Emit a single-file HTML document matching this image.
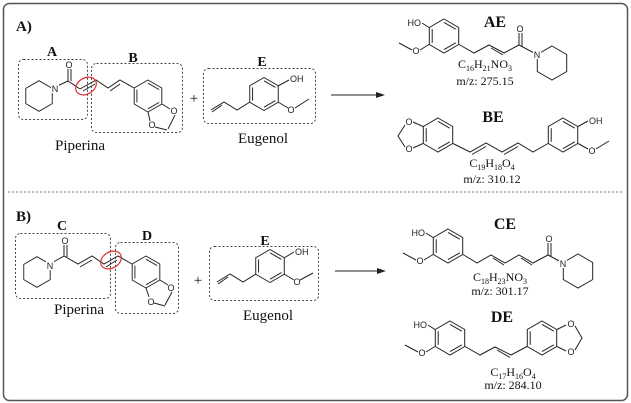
<!DOCTYPE html>
<html><head><meta charset="utf-8"><style>
html,body{margin:0;padding:0;background:#fff;}
svg{display:block;}
.b{stroke:#222;stroke-width:1;fill:none;}
.a{font-family:"Liberation Sans",sans-serif;font-size:9px;fill:#222;}
.s{font-family:"Liberation Serif",serif;fill:#111;}
.box{fill:none;stroke:#444;stroke-width:1;stroke-dasharray:2,2;}
</style></head><body>
<svg width="631" height="403" viewBox="0 0 631 403" xmlns="http://www.w3.org/2000/svg">
<defs>
<g id="bz" class="b">
<polygon points="0,-17 14.7,-8.5 14.7,8.5 0,17 -14.7,8.5 -14.7,-8.5"/>
<line x1="0" y1="-13.6" x2="11.8" y2="-6.8"/>
<line x1="11.8" y1="6.8" x2="0" y2="13.6"/>
<line x1="-11.8" y1="6.8" x2="-11.8" y2="-6.8"/>
</g>
<g id="hx" class="b"><polygon points="0,-17 14.7,-8.5 14.7,8.5 0,17 -14.7,8.5 -14.7,-8.5"/></g>
</defs>
<rect x="3.5" y="3.5" width="624" height="397" rx="6" fill="none" stroke="#555" stroke-width="1.5"/>
<line x1="8" y1="192" x2="623" y2="192" stroke="#777" stroke-dasharray="2,2"/>

<!-- Panel A -->
<text x="16" y="31" class="s" font-size="15" font-weight="bold">A)</text>
<rect class="box" x="18.5" y="59.5" width="69" height="60" rx="5"/>
<text x="52" y="56" class="s" font-size="14" font-weight="bold" text-anchor="middle">A</text>
<rect class="box" x="91.5" y="63.5" width="91" height="69" rx="5"/>
<text x="133" y="62" class="s" font-size="14" font-weight="bold" text-anchor="middle">B</text>
<rect class="box" x="203.5" y="68.5" width="112" height="55" rx="5"/>
<text x="262" y="66" class="s" font-size="14" font-weight="bold" text-anchor="middle">E</text>
<text x="194" y="103" class="s" font-size="15" text-anchor="middle">+</text>
<text x="80" y="150" class="s" font-size="15" text-anchor="middle">Piperina</text>
<text x="263" y="143" class="s" font-size="15" text-anchor="middle">Eugenol</text>

<use href="#hx" transform="translate(39,96) scale(0.9)"/>
<g class="b">
<polyline points="52.2,88.4 68,81 80,89"/>
<line x1="68" y1="81" x2="68" y2="69"/><line x1="71" y1="81" x2="71" y2="69"/>
<polyline points="80,89 96,80 108,88 120,80 134,88"/>
<line x1="83" y1="91" x2="95" y2="84"/><line x1="110" y1="91" x2="120" y2="84"/>
<line x1="162" y1="104" x2="170" y2="109"/><line x1="148" y1="112" x2="150" y2="121"/>
<line x1="175" y1="115" x2="168" y2="129"/><line x1="155" y1="127" x2="167" y2="130"/>
</g>
<rect x="51" y="84" width="8" height="9" fill="#fff"/>
<text x="55" y="92" class="a" text-anchor="middle">N</text>
<text x="69" y="68" class="a" text-anchor="middle">O</text>
<use href="#bz" transform="translate(148,96) scale(0.94)"/>
<text x="174" y="114" class="a" text-anchor="middle">O</text>
<text x="152" y="128" class="a" text-anchor="middle">O</text>
<ellipse cx="86" cy="86" rx="11" ry="8" transform="rotate(-30 86 86)" fill="none" stroke="#e03030" stroke-width="1.2"/>

<use href="#bz" transform="translate(264,94) scale(0.97)"/>
<g class="b">
<line x1="278" y1="86" x2="289" y2="80"/>
<line x1="278" y1="102" x2="288" y2="108"/><line x1="295" y1="108" x2="309" y2="99"/>
<polyline points="250,102 237,110 224,102 211,110"/>
<line x1="222" y1="105" x2="212" y2="112"/>
</g>
<text x="290" y="82" class="a">OH</text>
<text x="291" y="113" class="a" text-anchor="middle">O</text>

<g class="b"><line x1="331" y1="95" x2="378" y2="95"/></g>
<polygon points="385,95 376,92 376,98" fill="#222"/>

<!-- AE -->
<text x="495" y="27" class="s" font-size="16" font-weight="bold" text-anchor="middle">AE</text>
<use href="#bz" transform="translate(444,36)"/>
<g class="b">
<line x1="429" y1="27.5" x2="422" y2="23"/>
<line x1="429" y1="44.5" x2="420" y2="50"/><line x1="412" y1="50" x2="399" y2="43"/>
<polyline points="459,44.5 474,53 489,45 504,53 519,45 537,54.5"/>
<line x1="491" y1="48" x2="503" y2="55"/>
<line x1="519" y1="45" x2="519" y2="33"/><line x1="522" y1="46" x2="522" y2="33"/>
</g>
<use href="#hx" transform="translate(552,63)"/>
<rect x="533" y="50" width="8" height="9" fill="#fff"/>
<text x="537" y="58" class="a" text-anchor="middle">N</text>
<text x="520" y="32" class="a" text-anchor="middle">O</text>
<text x="421" y="26" class="a" text-anchor="end">HO</text>
<text x="416" y="54" class="a" text-anchor="middle">O</text>
<text x="485" y="68" class="s" font-size="12" text-anchor="middle">C<tspan font-size="8" dy="3">16</tspan><tspan dy="-3">H</tspan><tspan font-size="8" dy="3">21</tspan><tspan dy="-3">NO</tspan><tspan font-size="8" dy="3">3</tspan></text>
<text x="485" y="85" class="s" font-size="12" text-anchor="middle">m/z: 275.15</text>

<!-- BE -->
<text x="493" y="122" class="s" font-size="16" font-weight="bold" text-anchor="middle">BE</text>
<use href="#bz" transform="translate(438,135)"/>
<use href="#bz" transform="translate(563,135)"/>
<g class="b">
<line x1="423" y1="126.5" x2="413" y2="122"/><line x1="423" y1="143.5" x2="413" y2="148"/>
<polyline points="405,125 398,136 405,147"/>
<polyline points="453,143.5 470,152 486,143 502,152 518,143 533,152 548,143.5"/>
<line x1="472" y1="154.5" x2="486" y2="146.5"/><line x1="504" y1="154.5" x2="518" y2="146.5"/>
<line x1="578" y1="126.5" x2="588" y2="121"/>
<line x1="578" y1="143.5" x2="588" y2="149"/><line x1="596" y1="149" x2="609" y2="141"/>
</g>
<text x="409" y="125" class="a" text-anchor="middle">O</text>
<text x="409" y="152" class="a" text-anchor="middle">O</text>
<text x="589" y="124" class="a">OH</text>
<text x="592" y="154" class="a" text-anchor="middle">O</text>
<text x="492" y="167" class="s" font-size="12" text-anchor="middle">C<tspan font-size="8" dy="3">19</tspan><tspan dy="-3">H</tspan><tspan font-size="8" dy="3">18</tspan><tspan dy="-3">O</tspan><tspan font-size="8" dy="3">4</tspan></text>
<text x="492" y="183" class="s" font-size="12" text-anchor="middle">m/z: 310.12</text>

<!-- Panel B -->
<text x="16" y="221" class="s" font-size="15" font-weight="bold">B)</text>
<rect class="box" x="15.5" y="233.5" width="95" height="65" rx="5"/>
<text x="62" y="230" class="s" font-size="14" font-weight="bold" text-anchor="middle">C</text>
<rect class="box" x="115.5" y="242.5" width="63" height="71" rx="5"/>
<text x="147" y="240" class="s" font-size="14" font-weight="bold" text-anchor="middle">D</text>
<rect class="box" x="209.5" y="246.5" width="109" height="54" rx="5"/>
<text x="265" y="245" class="s" font-size="14" font-weight="bold" text-anchor="middle">E</text>
<text x="198" y="285" class="s" font-size="15" text-anchor="middle">+</text>
<text x="79" y="314" class="s" font-size="15" text-anchor="middle">Piperina</text>
<text x="268" y="320" class="s" font-size="15" text-anchor="middle">Eugenol</text>

<use href="#hx" transform="translate(37,272) scale(0.9)"/>
<g class="b">
<polyline points="50,264 64,256 78,264 92,256 104,264 118,256 132,264"/>
<line x1="64" y1="256" x2="64" y2="245"/><line x1="67" y1="257" x2="67" y2="245"/>
<line x1="80" y1="267" x2="92" y2="260"/><line x1="106" y1="267" x2="117" y2="260"/>
<line x1="160" y1="280" x2="168" y2="285"/><line x1="146" y1="288" x2="149" y2="297"/>
<line x1="172" y1="292" x2="165" y2="305"/><line x1="154" y1="303" x2="165" y2="306"/>
</g>
<rect x="46" y="261" width="8" height="9" fill="#fff"/>
<text x="50" y="269" class="a" text-anchor="middle">N</text>
<text x="65" y="244" class="a" text-anchor="middle">O</text>
<use href="#bz" transform="translate(146,272) scale(0.94)"/>
<text x="171" y="291" class="a" text-anchor="middle">O</text>
<text x="151" y="305" class="a" text-anchor="middle">O</text>
<ellipse cx="111" cy="260" rx="11" ry="8" transform="rotate(-30 111 260)" fill="none" stroke="#e03030" stroke-width="1.2"/>

<use href="#bz" transform="translate(270,266) scale(0.97)"/>
<g class="b">
<line x1="284" y1="258" x2="294" y2="252"/>
<line x1="284" y1="274" x2="294" y2="280"/><line x1="300" y1="280" x2="313" y2="273"/>
<polyline points="256,274 243,282 230,274 217,282"/>
<line x1="228" y1="277" x2="218" y2="284"/>
</g>
<text x="295" y="255" class="a">OH</text>
<text x="297" y="285" class="a" text-anchor="middle">O</text>

<g class="b"><line x1="335" y1="271" x2="379" y2="271"/></g>
<polygon points="386,271 377,268 377,274" fill="#222"/>

<!-- CE -->
<text x="505" y="229" class="s" font-size="16" font-weight="bold" text-anchor="middle">CE</text>
<use href="#bz" transform="translate(448,246)"/>
<g class="b">
<line x1="433" y1="237.5" x2="426" y2="233"/>
<line x1="433" y1="254.5" x2="424" y2="260"/><line x1="416" y1="260" x2="403" y2="253"/>
<polyline points="463,254.5 477,263 491,255 505,263 519,255 533,263 548,255 563,263"/>
<line x1="493" y1="258" x2="504" y2="265"/><line x1="521" y1="258" x2="532" y2="265"/>
<line x1="548" y1="255" x2="548" y2="243"/><line x1="551" y1="256" x2="551" y2="243"/>
</g>
<use href="#hx" transform="translate(578,271)"/>
<rect x="559" y="259" width="8" height="9" fill="#fff"/>
<text x="563" y="267" class="a" text-anchor="middle">N</text>
<text x="549" y="242" class="a" text-anchor="middle">O</text>
<text x="425" y="236" class="a" text-anchor="end">HO</text>
<text x="420" y="264" class="a" text-anchor="middle">O</text>
<text x="500" y="281" class="s" font-size="12" text-anchor="middle">C<tspan font-size="8" dy="3">18</tspan><tspan dy="-3">H</tspan><tspan font-size="8" dy="3">23</tspan><tspan dy="-3">NO</tspan><tspan font-size="8" dy="3">3</tspan></text>
<text x="500" y="295" class="s" font-size="12" text-anchor="middle">m/z: 301.17</text>

<!-- DE -->
<text x="502" y="322" class="s" font-size="16" font-weight="bold" text-anchor="middle">DE</text>
<use href="#bz" transform="translate(450,338)"/>
<use href="#bz" transform="translate(542,338)"/>
<g class="b">
<line x1="435" y1="329.5" x2="428" y2="325"/>
<line x1="435" y1="346.5" x2="426" y2="352"/><line x1="418" y1="352" x2="405" y2="345"/>
<polyline points="465,346.5 480,355 495,347 511,355 527,346.5"/>
<line x1="497" y1="350" x2="510" y2="357.5"/>
<line x1="557" y1="329.5" x2="566" y2="325"/><line x1="557" y1="346.5" x2="566" y2="351"/>
<polyline points="575,326 582,338 575,350"/>
</g>
<text x="427" y="328" class="a" text-anchor="end">HO</text>
<text x="422" y="356" class="a" text-anchor="middle">O</text>
<text x="571" y="327" class="a" text-anchor="middle">O</text>
<text x="571" y="355" class="a" text-anchor="middle">O</text>
<text x="513" y="376" class="s" font-size="12" text-anchor="middle">C<tspan font-size="8" dy="3">17</tspan><tspan dy="-3">H</tspan><tspan font-size="8" dy="3">16</tspan><tspan dy="-3">O</tspan><tspan font-size="8" dy="3">4</tspan></text>
<text x="513" y="389" class="s" font-size="12" text-anchor="middle">m/z: 284.10</text>
</svg>
</body></html>
